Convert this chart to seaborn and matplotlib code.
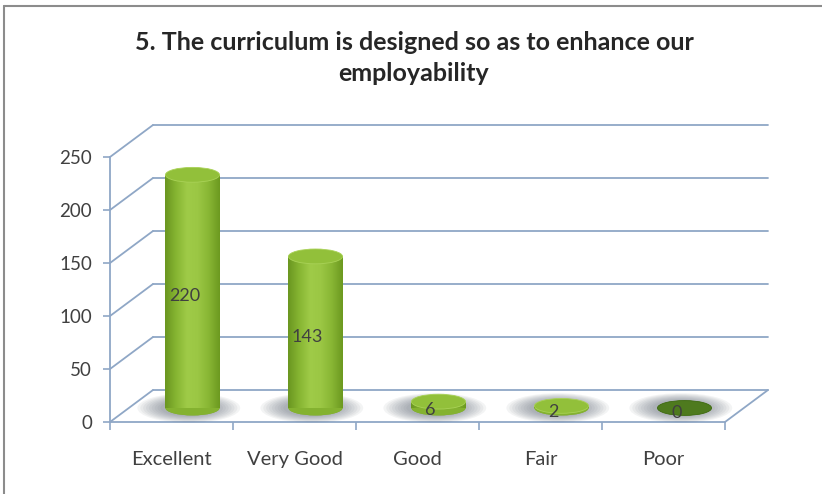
import numpy as np
import matplotlib
matplotlib.use("Agg")
import matplotlib.pyplot as plt
import seaborn as sns
import pandas as pd
from matplotlib.patches import Ellipse
from matplotlib.transforms import ScaledTranslation, IdentityTransform
from matplotlib.lines import Line2D
from matplotlib.colors import LinearSegmentedColormap

# ---------------- data ----------------
categories = ["Excellent", "Very Good", "Good", "Fair", "Poor"]
values = [220, 143, 6, 2, 0]
y_ticks = [0, 50, 100, 150, 200, 250]
title_text = "5. The curriculum is designed so as to enhance our\nemployability"

# ---------------- style ----------------
sns.set_theme(style="white")
plt.rcParams["font.family"] = ["Lato", "DejaVu Sans"]

GRID = "#8FA7C6"
TEXT = "#404040"
DPI = 100
W, H = 822, 494

fig = plt.figure(figsize=(W / DPI, H / DPI), dpi=DPI)
fig.patch.set_facecolor("white")

# front plane of the 3-D box (pixel geometry)
L, R, B, T = 110, 725, 422, 157
ax = fig.add_axes([L / W, (H - B) / H, (R - L) / W, (B - T) / H])
ax.set_facecolor("none")

df = pd.DataFrame({"category": categories, "value": values})
sns.barplot(data=df, x="category", y="value", width=0.44, color="#8DBB36",
            saturation=1, ax=ax, zorder=4, edgecolor="none")

ax.set_xlim(-0.5, len(categories) - 0.5)
ax.set_ylim(0, 250)

def shift(dx, dy):
    return ax.transData + ScaledTranslation(dx / DPI, dy / DPI, fig.dpi_scale_trans)

BACK = (43, 32)
MID = (21, 14)
t_back = shift(*BACK)
t_mid = shift(*MID)

# ---------- 3-D box: back wall gridlines, left wall diagonals, floor ----------
x0, x1 = -0.5, len(categories) - 0.5
for yv in y_ticks:
    ax.plot([x0, x1], [yv, yv], color=GRID, lw=1.3, transform=t_back,
            clip_on=False, zorder=1)
    p = ax.transData.transform((x0, yv))
    fig.add_artist(Line2D([p[0], p[0] + BACK[0]], [p[1], p[1] + BACK[1]],
                          transform=IdentityTransform(), color=GRID, lw=1.3, zorder=1))
# right floor edge
p = ax.transData.transform((x1, 0))
fig.add_artist(Line2D([p[0], p[0] + BACK[0]], [p[1], p[1] + BACK[1]],
                      transform=IdentityTransform(), color=GRID, lw=1.3, zorder=1))

# ---------- axes / ticks ----------
for s in ["top", "right"]:
    ax.spines[s].set_visible(False)
for s in ["left", "bottom"]:
    ax.spines[s].set_color(GRID)
    ax.spines[s].set_linewidth(1.3)
    ax.spines[s].set_zorder(2)

ax.set_yticks(y_ticks)
ax.set_yticklabels([str(v) for v in y_ticks])
ax.tick_params(axis="y", which="major", length=5, width=1.2, color=GRID,
               pad=8, labelsize=13.5, labelcolor=TEXT, left=True, direction="out")
ax.set_xticks(range(len(categories)))
ax.set_xticklabels(categories)
ax.tick_params(axis="x", which="major", length=0, pad=21, labelsize=14.5,
               labelcolor=TEXT)
ax.set_xticks(np.arange(-0.5, len(categories), 1.0), minor=True)
ax.tick_params(axis="x", which="minor", length=6, width=1.2, color=GRID,
               bottom=True, direction="out")
ax.set_xlabel("")
ax.set_ylabel("")
ax.grid(False)

# ---------- cylinders ----------
body_cmap = LinearSegmentedColormap.from_list(
    "cyl", ["#6A9620", "#86B532", "#9FCB48", "#9BC744", "#88B634", "#6C9920"])
grad = np.linspace(0, 1, 128).reshape(1, -1)
cap_h = 14  # ellipse height in value units

for patch, v in zip(list(ax.patches), values):
    bx = patch.get_x()
    bw = patch.get_width()
    bh = patch.get_height()
    xc = bx + bw / 2
    patch.set_transform(t_mid)
    patch.set_clip_on(False)
    # soft shadow
    for k in np.linspace(1.9, 1.05, 9):
        ax.add_patch(Ellipse((xc - 0.03, 0.0), bw * k, cap_h * k * 1.05,
                             transform=t_mid, color="#5A6470", alpha=0.07,
                             lw=0, zorder=2.5, clip_on=False))
    # bottom rounding
    ax.add_patch(Ellipse((xc, 0), bw, cap_h, transform=t_mid,
                         facecolor="#7DAA2C", lw=0, zorder=3, clip_on=False))
    if bh > 0:
        im = ax.imshow(grad, cmap=body_cmap, extent=[bx, bx + bw, 0, bh],
                       aspect="auto", transform=t_mid, zorder=4.5,
                       interpolation="bicubic", clip_on=True)
        im.set_clip_path(patch)
        ax.add_patch(Ellipse((xc, 0), bw, cap_h, transform=t_mid,
                             facecolor="#84B230", lw=0, zorder=4.4, clip_on=False))
    top_col = "#92C03A" if v > 0 else "#4E7A1E"
    ax.add_patch(Ellipse((xc, bh), bw, cap_h, transform=t_mid,
                         facecolor=top_col, edgecolor="#A9D257" if v > 0 else "#3F6A15",
                         lw=0.6, zorder=5, clip_on=False))

ax.set_xlim(-0.5, len(categories) - 0.5)
ax.set_ylim(0, 250)

# ---------- data labels ----------
t_lab = shift(13, 9)
for i, v in enumerate(values):
    ax.text(i, v / 2, str(v), transform=t_lab, ha="center", va="center",
            fontsize=13, color=TEXT, zorder=6)

# ---------- title ----------
fig.text(414 / W, 1 - 58 / H, title_text, ha="center", va="center",
         fontsize=18, fontweight="bold", color="#262626", linespacing=1.38)

# ---------- chart frame ----------
fig.add_artist(Line2D([4, 4], [0, H - 6], transform=IdentityTransform(),
                      color="#8C8C8C", lw=1.5))
fig.add_artist(Line2D([4, W], [H - 6, H - 6], transform=IdentityTransform(),
                      color="#8C8C8C", lw=1.5))

fig.savefig("out.png", dpi=DPI)
